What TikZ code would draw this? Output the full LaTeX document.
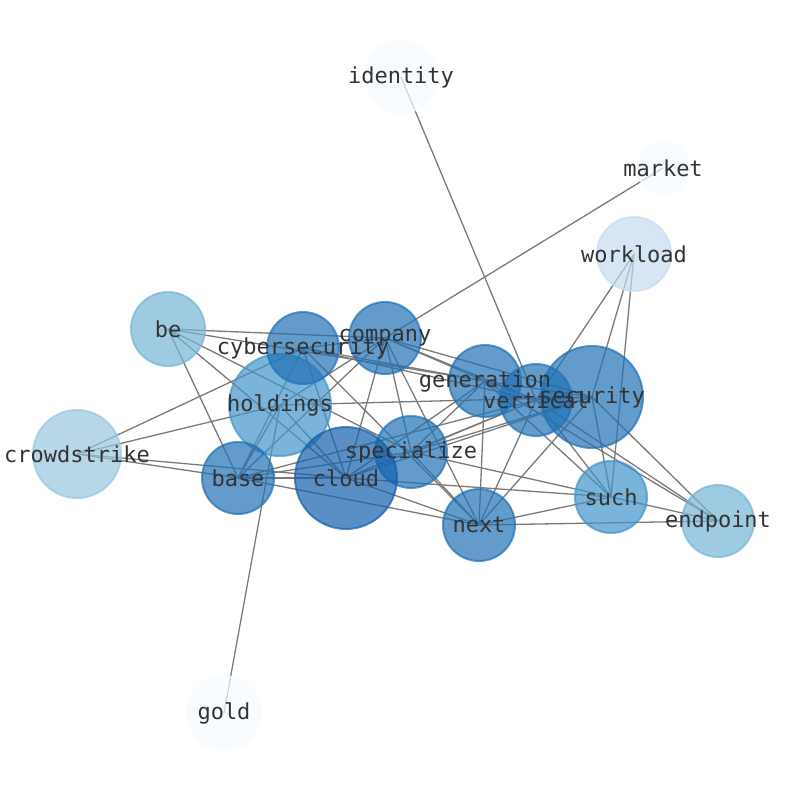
\documentclass[tikz,border=0pt]{standalone}
\usepackage{fontspec}
\setmonofont{DejaVu Sans Mono}
\definecolor{bA}{HTML}{F7FBFF}
\definecolor{bB}{HTML}{C6DBEF}
\definecolor{bC}{HTML}{98C6E0}
\definecolor{bD}{HTML}{76B5D6}
\definecolor{bE}{HTML}{4194CA}
\definecolor{bF}{HTML}{2171B5}
\definecolor{bG}{HTML}{1360AC}
\definecolor{edgegray}{HTML}{7A7A7A}
\tikzset{
  vtx/.style n args={2}{circle, inner sep=0pt, minimum size=#2, fill=#1, fill opacity=0.7, draw=#1, draw opacity=0.7, line width=2pt},
  lbl/.style={inner sep=0pt, text=black!80, font=\ttfamily\fontsize{22}{26}\selectfont},
  lnk/.style={draw=edgegray, line width=1.3pt}
}
\begin{document}
\begin{tikzpicture}[x=1pt,y=-1pt]
\useasboundingbox (0,0) rectangle (794,790);
% centres
\coordinate (identity) at (401,77);
\coordinate (market) at (663,168);
\coordinate (workload) at (634,254);
\coordinate (be) at (168,329);
\coordinate (company) at (385,338);
\coordinate (cybersecurity) at (303,348);
\coordinate (generation) at (485,381);
\coordinate (vertical) at (536,400);
\coordinate (security) at (592,397);
\coordinate (holdings) at (280,405);
\coordinate (crowdstrike) at (77,454);
\coordinate (specialize) at (411,452);
\coordinate (cloud) at (346,478);
\coordinate (base) at (238,478);
\coordinate (such) at (611,497);
\coordinate (next) at (479,525);
\coordinate (endpoint) at (718,521);
\coordinate (gold) at (224,713);
% edges
\foreach \a/\b in {identity/vertical, market/company, workload/vertical, workload/security, workload/such,
  endpoint/next, endpoint/such, endpoint/security, endpoint/vertical, endpoint/generation,
  such/next, such/security, such/vertical, such/generation, such/specialize, such/cloud,
  next/generation, next/vertical, next/security, next/company, next/cybersecurity, next/specialize, next/cloud, next/base,
  gold/holdings, crowdstrike/cybersecurity, crowdstrike/holdings, crowdstrike/base, crowdstrike/cloud,
  be/company, be/generation, be/specialize, be/cloud, be/base,
  base/cybersecurity, base/company, base/holdings, base/cloud, base/specialize, base/vertical,
  company/generation, company/vertical, company/security, company/cloud, company/specialize, company/cybersecurity,
  cybersecurity/cloud, cybersecurity/generation, cybersecurity/vertical,
  holdings/company, holdings/cloud, holdings/security,
  specialize/generation, specialize/vertical, specialize/security,
  cloud/generation, cloud/vertical, cloud/security,
  generation/vertical, vertical/security, generation/security}
  \draw[lnk] (\a) -- (\b);
% circles
\node[vtx={bA}{72pt}] (c-identity) at (identity) {};
\node[vtx={bA}{52pt}] (c-market) at (market) {};
\node[vtx={bB}{74pt}] (c-workload) at (workload) {};
\node[vtx={bD}{74pt}] (c-be) at (be) {};
\node[vtx={bE}{102pt}] (c-holdings) at (holdings) {};
\node[vtx={bF}{72pt}] (c-cybersecurity) at (cybersecurity) {};
\node[vtx={bF}{72pt}] (c-company) at (company) {};
\node[vtx={bF}{102pt}] (c-security) at (security) {};
\node[vtx={bF}{72pt}] (c-generation) at (generation) {};
\node[vtx={bF}{72pt}] (c-vertical) at (vertical) {};
\node[vtx={bC}{88pt}] (c-crowdstrike) at (crowdstrike) {};
\node[vtx={bF}{72pt}] (c-specialize) at (specialize) {};
\node[vtx={bG}{102pt}] (c-cloud) at (cloud) {};
\node[vtx={bF}{72pt}] (c-base) at (base) {};
\node[vtx={bE}{72pt}] (c-such) at (such) {};
\node[vtx={bF}{72pt}] (c-next) at (next) {};
\node[vtx={bD}{72pt}] (c-endpoint) at (endpoint) {};
\node[vtx={bA}{74pt}] (c-gold) at (gold) {};
% labels
\foreach \n in {identity,market,workload,be,holdings,cybersecurity,company,security,generation,vertical,crowdstrike,specialize,cloud,base,such,next,endpoint,gold}
  \node[lbl] (l-\n) at (\n) {\n};
\end{tikzpicture}
\end{document}
